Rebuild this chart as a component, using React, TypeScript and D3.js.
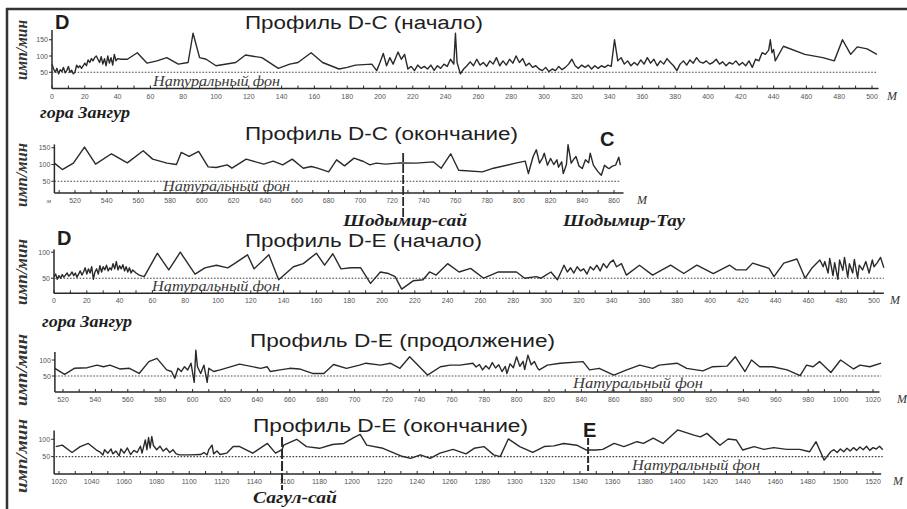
import * as d3 from 'd3';
import React from 'react';

// [distance, m ; count rate, imp/min]
const dcStart: [number, number][] = [
  [0, 75], [1, 60], [2, 50], [3, 62], [4, 45], [5, 58], [6, 52], [7, 65], [8, 48], [9, 55], [10, 68], [11, 50],
  [12, 56], [13, 45], [14, 50], [15, 72], [16, 64], [17, 70], [18, 62], [20, 78], [21, 70], [22, 88], [23, 80],
  [24, 92], [25, 85], [26, 95], [27, 100], [28, 90], [29, 80], [30, 98], [31, 75], [32, 92], [33, 70], [34, 100],
  [35, 78], [36, 95], [37, 72], [38, 105], [39, 85], [40, 92], [42, 90], [46, 90], [49, 100], [52, 110], [58, 78],
  [64, 85], [70, 95], [77, 75], [83, 80], [86, 170], [90, 95], [94, 90], [100, 70], [112, 80], [118, 103],
  [128, 95], [138, 62], [145, 75], [150, 80], [158, 110], [165, 80], [175, 60], [180, 65], [185, 72], [195, 75],
  [198, 55], [200, 80], [202, 108], [204, 70], [206, 95], [208, 75], [210, 100], [211, 112], [213, 90], [215, 105],
  [217, 60], [219, 68], [221, 55], [223, 72], [225, 62], [227, 68], [229, 60], [231, 72], [233, 56], [235, 70],
  [237, 62], [239, 75], [241, 68], [243, 90], [245, 75], [246, 170], [247, 80], [249, 45], [251, 60], [253, 70],
  [255, 82], [257, 70], [259, 90], [261, 72], [263, 80], [265, 68], [267, 85], [269, 75], [271, 95], [273, 70],
  [275, 85], [277, 72], [279, 90], [281, 78], [283, 100], [285, 80], [287, 92], [289, 70], [291, 78], [293, 65],
  [295, 70], [297, 60], [299, 55], [301, 65], [303, 52], [305, 60], [307, 55], [309, 68], [311, 58], [313, 65],
  [315, 75], [317, 90], [319, 70], [321, 62], [323, 72], [325, 65], [327, 72], [329, 60], [331, 70], [333, 62],
  [335, 70], [337, 65], [339, 72], [341, 68], [343, 150], [345, 85], [347, 95], [349, 75], [351, 85], [353, 70],
  [355, 80], [357, 72], [359, 88], [361, 75], [363, 95], [365, 78], [367, 90], [369, 70], [371, 85], [373, 75],
  [375, 92], [377, 80], [379, 70], [381, 55], [383, 75], [385, 85], [387, 72], [389, 88], [391, 78], [393, 95],
  [395, 82], [397, 78], [399, 85], [401, 75], [403, 80], [405, 90], [407, 75], [409, 82], [411, 70], [413, 80],
  [415, 75], [417, 85], [419, 72], [421, 80], [423, 70], [425, 85], [427, 65], [429, 90], [431, 85], [433, 110],
  [435, 105], [437, 118], [438, 150], [439, 110], [440, 120], [441, 85], [446, 130], [459, 105], [470, 95],
  [477, 85], [482, 150], [487, 105], [491, 128], [497, 122], [503, 105],
];

const dcEnd: [number, number][] = [
  [507, 104], [512, 85], [519, 104], [526, 152], [533, 101], [543, 132], [553, 105], [563, 141], [569, 116],
  [578, 104], [584, 100], [587, 136], [592, 124], [598, 139], [604, 93], [609, 91], [616, 99], [619, 89],
  [628, 116], [639, 101], [645, 110], [651, 99], [657, 116], [664, 89], [669, 94], [673, 89], [680, 78],
  [685, 114], [690, 96], [696, 119], [702, 109], [706, 99], [710, 104], [716, 101], [725, 105], [735, 104],
  [746, 108], [751, 89], [757, 132], [762, 83], [777, 78], [784, 89], [798, 104], [804, 110], [806, 73],
  [809, 124], [811, 144], [813, 104], [815, 120], [816, 134], [818, 98], [820, 118], [822, 100], [824, 114],
  [825, 92], [827, 108], [828, 73], [830, 100], [831, 159], [833, 104], [835, 118], [836, 124], [838, 95],
  [840, 88], [842, 114], [844, 105], [845, 134], [847, 98], [849, 85], [850, 78], [852, 68], [854, 98],
  [856, 90], [857, 88], [859, 95], [861, 98], [863, 122], [864, 98],
];

const deStart: [number, number][] = [
  [0, 53], [1, 58], [2, 48], [3, 55], [4, 50], [5, 57], [6, 52], [7, 56], [8, 60], [9, 54], [10, 57], [11, 62],
  [12, 55], [13, 60], [14, 52], [15, 58], [16, 64], [17, 56], [18, 62], [19, 70], [20, 58], [21, 68], [22, 60],
  [23, 72], [24, 48], [25, 62], [26, 68], [27, 58], [28, 74], [29, 62], [30, 72], [31, 66], [32, 75], [33, 64],
  [34, 70], [35, 66], [36, 78], [37, 68], [38, 82], [39, 66], [40, 74], [41, 68], [42, 76], [43, 64], [44, 72],
  [45, 62], [46, 70], [47, 60], [48, 66], [50, 60], [52, 56], [55, 53], [63, 98], [70, 66], [77, 100], [86, 58],
  [92, 70], [99, 75], [106, 70], [110, 78], [118, 95], [122, 68], [131, 95], [137, 47], [146, 72], [152, 78],
  [160, 98], [165, 75], [170, 97], [175, 68], [181, 70], [187, 70], [193, 40], [199, 62], [204, 59], [208, 53],
  [212, 29], [219, 45], [225, 47], [229, 62], [233, 56], [240, 78], [247, 62], [254, 69], [262, 50], [271, 62],
  [282, 62], [287, 50], [294, 53], [297, 50], [303, 62], [307, 47], [311, 75], [313, 62], [315, 70], [317, 60],
  [319, 72], [321, 64], [323, 68], [325, 58], [327, 72], [329, 66], [331, 75], [333, 64], [335, 78], [337, 70],
  [339, 80], [341, 85], [343, 72], [346, 78], [349, 56], [357, 75], [365, 56], [376, 75], [384, 59], [392, 75],
  [402, 59], [412, 75], [416, 66], [422, 66], [426, 79], [436, 69], [439, 53], [445, 79], [453, 87], [458, 50],
  [462, 69], [467, 85], [469, 72], [470, 82], [472, 60], [473, 88], [475, 55], [476, 80], [478, 48], [479, 85],
  [481, 65], [482, 90], [484, 52], [485, 78], [487, 60], [488, 86], [490, 50], [491, 75], [493, 66], [495, 82],
  [497, 60], [499, 85], [500, 72], [502, 80], [504, 90], [506, 70],
];

const deMid: [number, number][] = [
  [515, 74], [521, 55], [527, 74], [535, 76], [541, 84], [545, 79], [549, 84], [555, 72], [561, 74], [567, 58],
  [573, 95], [578, 105], [584, 69], [587, 64], [589, 43], [591, 74], [593, 64], [595, 79], [597, 69], [599, 90],
  [601, 30], [602, 131], [603, 79], [605, 58], [607, 84], [609, 30], [610, 74], [613, 64], [617, 69], [629, 87],
  [642, 74], [646, 79], [648, 64], [654, 69], [660, 74], [666, 72], [674, 58], [681, 58], [687, 86], [695, 74],
  [703, 84], [707, 90], [716, 84], [722, 90], [728, 74], [734, 110], [745, 53], [753, 79], [759, 84], [765, 84],
  [773, 90], [775, 78], [777, 86], [779, 69], [781, 82], [783, 72], [785, 92], [787, 75], [789, 85], [791, 64],
  [793, 80], [794, 58], [796, 88], [798, 76], [800, 110], [802, 80], [804, 96], [805, 70], [807, 115], [809, 85],
  [811, 95], [813, 74], [814, 69], [819, 84], [827, 90], [841, 95], [845, 69], [851, 74], [860, 53], [868, 69],
  [876, 84], [884, 74], [888, 84], [899, 90], [905, 74], [915, 66], [921, 79], [930, 81], [935, 110], [941, 64],
  [945, 100], [950, 79], [958, 79], [967, 69], [975, 51], [979, 84], [983, 79], [987, 95], [994, 61], [1000, 100],
  [1008, 72], [1012, 84], [1018, 79], [1025, 90],
];

const deEnd: [number, number][] = [
  [1018, 79], [1022, 83], [1028, 62], [1033, 79], [1038, 88], [1043, 69], [1045, 64], [1047, 55], [1048, 70],
  [1050, 60], [1052, 72], [1053, 58], [1055, 66], [1057, 52], [1058, 72], [1060, 60], [1062, 75], [1064, 56],
  [1066, 68], [1068, 62], [1070, 80], [1071, 60], [1073, 98], [1074, 70], [1075, 105], [1076, 75], [1077, 108],
  [1078, 82], [1080, 70], [1082, 80], [1084, 66], [1086, 74], [1088, 62], [1090, 70], [1092, 58], [1094, 55],
  [1100, 55], [1107, 56], [1109, 62], [1111, 55], [1112, 70], [1114, 83], [1115, 58], [1117, 66], [1119, 56],
  [1123, 60], [1127, 79], [1131, 79], [1139, 60], [1148, 88], [1153, 60], [1157, 70], [1158, 83], [1166, 100],
  [1172, 79], [1180, 74], [1188, 85], [1195, 88], [1201, 105], [1205, 114], [1209, 83], [1219, 74], [1230, 52],
  [1236, 45], [1242, 55], [1248, 45], [1254, 60], [1262, 71], [1270, 58], [1275, 74], [1281, 79], [1287, 55],
  [1291, 50], [1296, 101], [1303, 79], [1311, 62], [1318, 79], [1324, 81], [1330, 88], [1338, 83], [1344, 69],
  [1350, 69], [1354, 71], [1361, 88], [1367, 79], [1375, 93], [1379, 88], [1385, 103], [1391, 88], [1400, 127],
  [1410, 112], [1414, 107], [1418, 117], [1426, 83], [1431, 101], [1436, 98], [1440, 69], [1447, 79], [1453, 71],
  [1459, 76], [1467, 71], [1475, 71], [1481, 64], [1485, 93], [1490, 40], [1494, 64], [1496, 70], [1498, 62],
  [1500, 72], [1502, 64], [1504, 74], [1506, 66], [1508, 76], [1510, 68], [1512, 78], [1514, 70], [1516, 80],
  [1518, 68], [1520, 76], [1522, 72], [1524, 80], [1526, 70],
];

const bgLevel = 50;

const titles = [
  'Профиль D-C (начало)',
  'Профиль D-C (окончание)',
  'Профиль D-E (начало)',
  'Профиль D-E (продолжение)',
  'Профиль D-E (окончание)',
];

const yTicksBig = [50, 100, 150];
const yTicksSmall = [50, 100];

const panels = [
  {
    data: dcStart, title: titles[0], xd: [0, 500], xr: [52, 872], axis: [0, 504], ticks: d3.range(0, 501, 20),
    yd: [0, 180], yr: [88.5, 30], yTicks: yTicksBig, titleBox: [245, 483, 29], bgLabel: [153, 280, 86],
    yLabel: [50, 60], unitRight: 887, unitLeft: false,
  },
  {
    data: dcEnd, title: titles[1], xd: [520, 860], xr: [75, 614], axis: [507, 866], ticks: d3.range(520, 861, 20),
    yd: [15, 160], yr: [193, 144.4], yTicks: yTicksBig, titleBox: [245, 518, 140], bgLabel: [163, 290, 191],
    yLabel: [175, 64], unitRight: 637, unitLeft: true,
  },
  {
    data: deStart, title: titles[2], xd: [0, 500], xr: [54, 874], axis: [0, 506], ticks: d3.range(0, 501, 20),
    yd: [21, 105], yr: [293.3, 249.6], yTicks: yTicksSmall, titleBox: [245, 482, 247], bgLabel: [152, 280, 291],
    yLabel: [272, 66], unitRight: 890, unitLeft: false,
  },
  {
    data: deMid, title: titles[3], xd: [520, 1020], xr: [63, 873], axis: [515, 1024], ticks: d3.range(520, 1021, 20),
    yd: [0, 125], yr: [392, 352], yTicks: yTicksSmall, titleBox: [250, 555, 347], bgLabel: [573, 703, 388],
    yLabel: [370, 72], unitRight: 897, unitLeft: false,
  },
  {
    data: deEnd, title: titles[4], xd: [1020, 1520], xr: [59, 873], axis: [1017, 1525], ticks: d3.range(1020, 1521, 20),
    yd: [0, 125], yr: [474, 430.6], yTicks: yTicksSmall, titleBox: [253, 528, 432], bgLabel: [632, 760, 470],
    yLabel: [456, 74], unitRight: 893, unitLeft: false,
  },
];

const ink = '#2a2a2a';
const serif = '"Liberation Serif", "DejaVu Serif", serif';
const sans = '"Liberation Sans", Arial, sans-serif';

function Panel({ p }: { p: typeof panels[number] }) {
  const x = d3.scaleLinear().domain(p.xd).range(p.xr);
  const y = d3.scaleLinear().domain(p.yd).range(p.yr);
  const line = d3.line<[number, number]>().x((d) => x(d[0])).y((d) => y(d[1]));
  const x0 = x(p.axis[0]);
  const x1 = x(p.axis[1]);
  const y0 = p.yr[0];
  const minor = d3.range(Math.ceil(p.axis[0] / 10) * 10, p.axis[1] + 0.1, 10);
  const first = p.data[0][0];
  const last = p.data[p.data.length - 1][0];
  const [tx0, tx1, ty] = p.titleBox;
  const [bx0, bx1, by] = p.bgLabel;
  return (
    <g>
      <text x={tx0} y={ty} fontFamily={sans} fontSize={18} fill="#1e1e1e" textLength={tx1 - tx0}
        lengthAdjust="spacingAndGlyphs">{p.title}</text>
      <text transform={`translate(27,${p.yLabel[0]}) rotate(-90)`} textAnchor="middle" fontFamily={serif}
        fontStyle="italic" fontWeight="bold" fontSize={16} fill="#333" textLength={p.yLabel[1]}
        lengthAdjust="spacingAndGlyphs">имп/мин</text>
      <line x1={x0} x2={x0} y1={y0} y2={p.yr[1]} stroke={ink} strokeWidth={1.5} />
      {p.yTicks.map((t) => (
        <g key={t}>
          <line x1={x0 - 3} x2={x0} y1={y(t)} y2={y(t)} stroke={ink} strokeWidth={1} />
          <text x={x0 - 4} y={y(t) + 2.5} textAnchor="end" fontFamily={sans} fontSize={7} fill="#555">{t}</text>
        </g>
      ))}
      <line x1={x0} x2={x1} y1={y0} y2={y0} stroke={ink} strokeWidth={1.6} />
      {minor.map((t) => (
        <line key={t} x1={x(t)} x2={x(t)} y1={y0} y2={y0 - 3} stroke={ink} strokeWidth={1} />
      ))}
      {p.ticks.map((t) => (
        <text key={t} x={x(t)} y={y0 + 10} textAnchor="middle" fontFamily={sans} fontSize={7} fill="#555">{t}</text>
      ))}
      <text x={p.unitRight} y={y0 + 11} fontFamily={serif} fontStyle="italic" fontSize={12} fill="#333">М</text>
      {p.unitLeft && (
        <text x={x0 - 8} y={y0 + 10} fontFamily={serif} fontStyle="italic" fontSize={7} fill="#555">м</text>
      )}
      <line x1={x(first)} x2={x(last)} y1={y(bgLevel)} y2={y(bgLevel)} stroke="#444" strokeWidth={1.1}
        strokeDasharray="1.6 1.6" />
      <text x={bx0} y={by} fontFamily={serif} fontStyle="italic" fontSize={15} fill="#3a3a3a" textLength={bx1 - bx0}
        lengthAdjust="spacingAndGlyphs">Натуральный фон</text>
      <path d={line(p.data) ?? ''} fill="none" stroke={ink} strokeWidth={1.4} strokeLinejoin="round" />
    </g>
  );
}

export default function App() {
  const boldIt = { fontFamily: serif, fontStyle: 'italic', fontWeight: 'bold', fill: '#1e1e1e' } as const;
  const letter = { fontFamily: sans, fontWeight: 'bold', fontSize: 20, fill: '#1e1e1e' } as const;
  const xDc2 = d3.scaleLinear().domain(panels[1].xd).range(panels[1].xr);
  const xDe3 = d3.scaleLinear().domain(panels[4].xd).range(panels[4].xr);
  return (
    <svg width={907} height={509} style={{ position: 'absolute', left: 0, top: 0, background: '#fff' }}>
      <line x1={6} x2={907} y1={9} y2={9} stroke="#333" strokeWidth={2.5} />
      <line x1={7} x2={7} y1={8} y2={509} stroke="#333" strokeWidth={2.5} />
      {panels.map((p, i) => <Panel key={i} p={p} />)}
      <text x={55} y={29} {...letter}>D</text>
      <text x={600} y={146} {...letter}>C</text>
      <text x={57} y={245} {...letter}>D</text>
      <text x={583} y={437} {...letter}>E</text>
      <text x={40} y={118} fontSize={17} textLength={90} lengthAdjust="spacingAndGlyphs" {...boldIt}>гора Зангур</text>
      <text x={42} y={327} fontSize={17} textLength={90} lengthAdjust="spacingAndGlyphs" {...boldIt}>гора Зангур</text>
      <text x={343} y={226} fontSize={17} textLength={124} lengthAdjust="spacingAndGlyphs" {...boldIt}>Шодымир-сай</text>
      <text x={563} y={226} fontSize={17} textLength={122} lengthAdjust="spacingAndGlyphs" {...boldIt}>Шодымир-Тау</text>
      <text x={253} y={503} fontSize={17} textLength={84} lengthAdjust="spacingAndGlyphs" {...boldIt}>Сагул-сай</text>
      <line x1={xDc2(727)} x2={xDc2(727)} y1={153} y2={219} stroke={ink} strokeWidth={1.8} strokeDasharray="9 2" />
      <line x1={xDe3(1157)} x2={xDe3(1157)} y1={437} y2={490} stroke={ink} strokeWidth={2} strokeDasharray="10 2" />
      <line x1={xDe3(1345)} x2={xDe3(1345)} y1={438} y2={471} stroke={ink} strokeWidth={2} strokeDasharray="7 2" />
    </svg>
  );
}
